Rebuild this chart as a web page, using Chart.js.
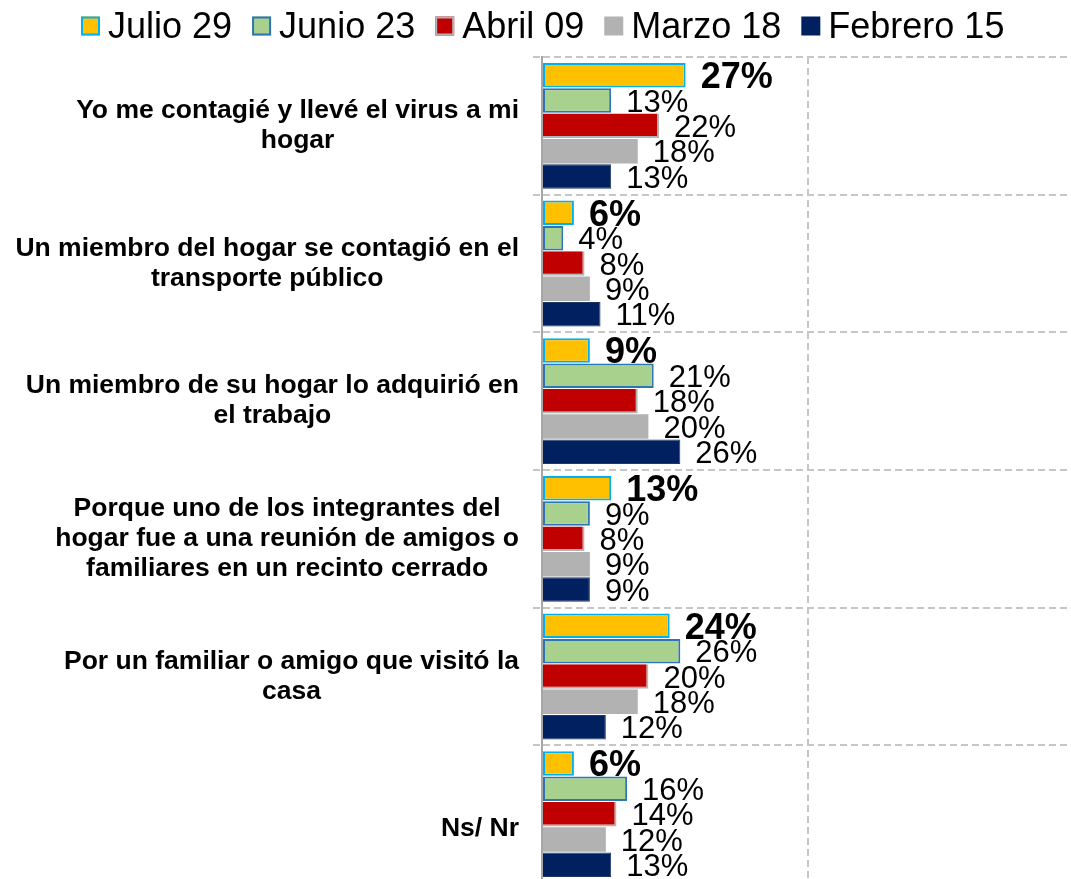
<!DOCTYPE html>
<html>
<head>
<meta charset="utf-8">
<script src="https://cdn.jsdelivr.net/npm/chart.js@4.4.1/dist/chart.umd.min.js"></script>
<style>
  html, body { margin: 0; padding: 0; background: #ffffff; overflow: hidden; }
  canvas { display: block; }
</style>
</head>
<body>
<canvas id="chart" width="1080" height="890"></canvas>
<script>
// Reasons given for how the virus reached the household (% of answers)
const categories = [
  ["Yo me contagié y llevé el virus a mi", "hogar"],
  ["Un miembro del hogar se contagió en el", "transporte público"],
  ["Un miembro de su hogar lo adquirió en", "el trabajo"],
  ["Porque uno de los integrantes del", "hogar fue a una reunión de amigos o", "familiares en un recinto cerrado"],
  ["Por un familiar o amigo que visitó la", "casa"],
  ["", "Ns/ Nr"]
];

const seriesNames = ["Julio 29", "Junio 23", "Abril 09", "Marzo 18", "Febrero 15"];

const julio29   = [27, 6, 9, 13, 24, 6];
const junio23   = [13, 4, 21, 9, 26, 16];
const abril09   = [22, 8, 18, 8, 20, 14];
const marzo18   = [18, 9, 20, 9, 18, 12];
const febrero15 = [13, 11, 26, 9, 12, 13];

const FONT = '"Liberation Sans", Arial, Helvetica, sans-serif';
const GRID = '#C6C6C6';

// Legend swatches: fill and outline per series
const swatches = [
  { fill: '#FFC000', stroke: '#00B0F0' },
  { fill: '#A9D18E', stroke: '#2E75B6' },
  { fill: '#C00000', stroke: '#B4B4B4' },
  { fill: '#B2B2B2', stroke: null },
  { fill: '#002060', stroke: null }
];

// Legend row across the top
const legendRow = {
  id: 'legendRow',
  afterDraw(chart) {
    const ctx = chart.ctx;
    ctx.save();
    ctx.font = '36px ' + FONT;
    ctx.textBaseline = 'alphabetic';
    ctx.textAlign = 'left';
    let x = 81;
    chart.data.datasets.forEach((ds, i) => {
      const sw = swatches[i];
      const size = 19;
      const top = 16.5;
      ctx.fillStyle = sw.fill;
      ctx.fillRect(x, top, size, size);
      if (sw.stroke) {
        ctx.lineWidth = 2;
        ctx.strokeStyle = sw.stroke;
        ctx.strokeRect(x + 1, top + 1, size - 2, size - 2);
      }
      x += size + 8;
      ctx.fillStyle = '#000000';
      ctx.fillText(ds.label, x, 38);
      x += ctx.measureText(ds.label).width + 20;
    });
    ctx.restore();
  }
};

// Category text: block right-aligned against the axis, lines centred inside it
const categoryText = {
  id: 'categoryText',
  afterDraw(chart) {
    const ctx = chart.ctx;
    const yScale = chart.scales.y;
    const right = 519;
    const lineH = 30;
    ctx.save();
    ctx.font = 'bold 26.5px ' + FONT;
    ctx.fillStyle = '#000000';
    ctx.textAlign = 'center';
    ctx.textBaseline = 'middle';
    chart.data.labels.forEach((lines, i) => {
      const yc = yScale.getPixelForValue(i);
      const w = Math.max(...lines.map(l => ctx.measureText(l).width));
      const cx = right - w / 2;
      const y0 = yc - (lines.length - 1) * lineH / 2;
      lines.forEach((l, k) => ctx.fillText(l, cx, y0 + k * lineH));
    });
    ctx.restore();
  }
};

// Value labels just past the end of each bar
const valueLabels = {
  id: 'valueLabels',
  afterDatasetsDraw(chart) {
    const ctx = chart.ctx;
    ctx.save();
    ctx.fillStyle = '#000000';
    ctx.textAlign = 'left';
    ctx.textBaseline = 'alphabetic';
    chart.data.datasets.forEach((ds, di) => {
      const meta = chart.getDatasetMeta(di);
      const size = di === 0 ? 36 : 31;
      ctx.font = (di === 0 ? 'bold ' : '') + size + 'px ' + FONT;
      meta.data.forEach((bar, i) => {
        const v = ds.data[i];
        ctx.fillText(v + '%', bar.x + 15, bar.y + size * 0.36);
      });
    });
    ctx.restore();
  }
};

new Chart(document.getElementById('chart'), {
  type: 'bar',
  data: {
    labels: categories,
    datasets: [
      { label: seriesNames[0], data: julio29, backgroundColor: '#FFC000',
        borderColor: '#00B0F0', borderWidth: 2, borderSkipped: false },
      { label: seriesNames[1], data: junio23, backgroundColor: '#A9D18E',
        borderColor: '#2E75B6', borderWidth: 2, borderSkipped: false },
      { label: seriesNames[2], data: abril09, backgroundColor: '#C00000',
        borderColor: '#B4B4B4', borderWidth: { top: 0, left: 0, right: 2, bottom: 2 }, borderSkipped: false },
      { label: seriesNames[3], data: marzo18, backgroundColor: '#B2B2B2', borderWidth: 0 },
      { label: seriesNames[4], data: febrero15, backgroundColor: '#002060',
        borderColor: '#1F3864', borderWidth: 1, borderSkipped: 'start' }
    ]
  },
  options: {
    indexAxis: 'y',
    responsive: false,
    animation: false,
    devicePixelRatio: 1,
    categoryPercentage: 0.92,
    barPercentage: 0.965,
    layout: { padding: { top: 57, right: 6, bottom: 7, left: 0 } },
    plugins: {
      legend: { display: false },
      tooltip: { enabled: false }
    },
    scales: {
      x: {
        min: 0,
        max: 100,
        ticks: { display: false, stepSize: 50 },
        grid: {
          color: (c) => (c.tick && c.tick.value === 0) ? 'rgba(0,0,0,0)' : GRID,
          lineWidth: 2,
          drawTicks: false
        },
        border: { display: false, dash: [7, 4] },
        afterFit(scale) { scale.height = 0; }
      },
      y: {
        ticks: { display: false },
        grid: {
          color: GRID,
          lineWidth: 2,
          drawTicks: true,
          tickLength: 9,
          tickColor: GRID,
          tickWidth: 2,
          tickBorderDash: [7, 4],
          offset: true
        },
        border: { display: true, color: '#A6A6A6', width: 2, dash: [7, 4] },
        afterFit(scale) { scale.width = 542; }
      }
    }
  },
  plugins: [legendRow, categoryText, valueLabels]
});
</script>
</body>
</html>
